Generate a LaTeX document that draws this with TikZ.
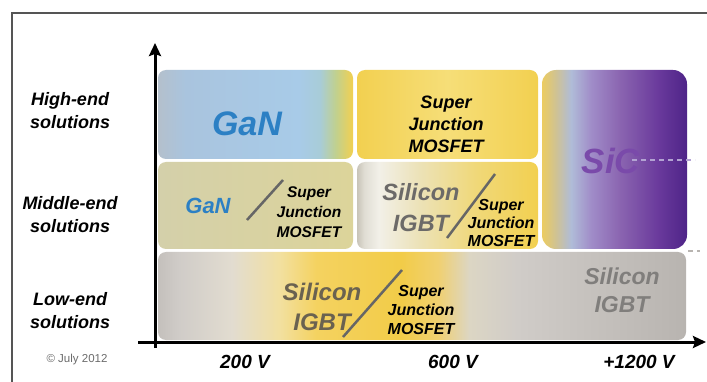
\documentclass[tikz,border=0pt]{standalone}
\usepackage{fontspec}
\setmainfont{Liberation Sans}
\usepackage{tikz}
\usetikzlibrary{positioning,arrows.meta}
\definecolor{ganblue}{RGB}{44,128,196}
\definecolor{sicpurple}{RGB}{122,74,170}
\definecolor{igbtgrey}{RGB}{108,106,104}
\definecolor{igbtbrown}{RGB}{106,98,80}
\definecolor{igbtlight}{RGB}{128,126,124}
\definecolor{framegrey}{RGB}{85,85,85}
\definecolor{g1}{RGB}{180,192,204}
\definecolor{g2}{RGB}{169,196,222}
\definecolor{g3}{RGB}{168,203,232}
\definecolor{g4}{RGB}{168,204,216}
\definecolor{g5}{RGB}{192,208,144}
\definecolor{yel}{RGB}{242,208,80}
\definecolor{yellite}{RGB}{246,222,120}
\definecolor{khaki1}{RGB}{212,208,170}
\definecolor{khaki2}{RGB}{220,212,154}
\definecolor{i1}{RGB}{200,196,184}
\definecolor{i2}{RGB}{224,221,212}
\definecolor{i3}{RGB}{242,240,232}
\definecolor{i4}{RGB}{236,226,184}
\definecolor{i5}{RGB}{240,216,120}
\definecolor{s1}{RGB}{236,204,96}
\definecolor{s2}{RGB}{206,194,150}
\definecolor{s3}{RGB}{176,188,216}
\definecolor{s4}{RGB}{160,140,200}
\definecolor{s5}{RGB}{138,100,176}
\definecolor{s6}{RGB}{106,58,156}
\definecolor{s7}{RGB}{78,36,136}
\definecolor{l1}{RGB}{196,192,188}
\definecolor{l2}{RGB}{208,204,200}
\definecolor{l3}{RGB}{226,220,208}
\definecolor{l4}{RGB}{242,224,160}
\definecolor{l5}{RGB}{244,210,96}
\definecolor{l6}{RGB}{242,204,72}
\definecolor{l7}{RGB}{240,208,112}
\definecolor{l8}{RGB}{220,214,196}
\definecolor{l9}{RGB}{184,180,176}
\pgfdeclarehorizontalshading{gantop}{100bp}{color(0bp)=(g1); color(25bp)=(g1);
  color(32bp)=(g2); color(61bp)=(g3); color(66.5bp)=(g4); color(70.5bp)=(g5);
  color(75bp)=(yel); color(100bp)=(yel)}
\pgfdeclarehorizontalshading{sjtop}{100bp}{color(0bp)=(yel); color(25bp)=(yel);
  color(50bp)=(yellite); color(75bp)=(yel); color(100bp)=(yel)}
\pgfdeclarehorizontalshading{ganmid}{100bp}{color(0bp)=(khaki1); color(25bp)=(khaki1);
  color(75bp)=(khaki2); color(100bp)=(khaki2)}
\pgfdeclarehorizontalshading{igbtmid}{100bp}{color(0bp)=(i1); color(25bp)=(i1);
  color(27bp)=(i2); color(31bp)=(i3); color(42bp)=(i4); color(58bp)=(i5);
  color(75bp)=(yel); color(100bp)=(yel)}
\pgfdeclarehorizontalshading{sicall}{100bp}{color(0bp)=(s1); color(25bp)=(s1);
  color(30bp)=(s2); color(35bp)=(s3); color(42bp)=(s4); color(52bp)=(s5);
  color(65bp)=(s6); color(75bp)=(s7); color(100bp)=(s7)}
\pgfdeclarehorizontalshading{lowall}{100bp}{color(0bp)=(l1); color(25bp)=(l1);
  color(27bp)=(l2); color(32bp)=(l3); color(36.5bp)=(l4); color(40bp)=(l5);
  color(48bp)=(l6); color(51.5bp)=(l7); color(54.5bp)=(l8); color(59bp)=(l2);
  color(67bp)=(l1); color(75bp)=(l9); color(100bp)=(l9)}
\tikzset{
  cell/.style = {rectangle, rounded corners=8pt, shade, inner sep=0pt},
  txt/.style 2 args = {font={\bfseries\itshape\fontsize{#1}{#2}\selectfont},
                       align=center, inner sep=0pt},
  rowtxt/.style = {txt={18}{23}},
  volttxt/.style = {txt={19}{22}},
  datetxt/.style = {font={\fontsize{11.5}{13}\selectfont}, text=gray!85!black, inner sep=0pt},
  axis/.style = {-{Stealth[length=13pt,width=12pt,inset=2pt]}, line width=3pt},
  slash/.style = {line width=2.5pt, draw=framegrey!90},
  frame/.style = {line width=1.5pt, draw=framegrey},
  dashline/.style = {dashed, line width=1.2pt, draw=s4!80, dash pattern=on 5pt off 4pt}
}

\begin{document}
\begin{tikzpicture}[x=1pt,y=-1pt]
  \useasboundingbox (0,0) rectangle (707,382);
  \fill[white] (0,0) rectangle (707,382);
  \coordinate (fbl) at (12,382);
  \coordinate (ftl) at (12,13);
  \coordinate (ftr) at (707,13);
  \draw[frame] (fbl) -- (ftl) -- (ftr);

  % boxes
  \node[cell, shading=gantop, minimum width=195pt, minimum height=89pt] (ganhigh) at (255.5,114.5) {};
  \node[cell, shading=sjtop, minimum width=181pt, minimum height=89pt] (sjhigh) at (447.5,114.5) {};
  \node[cell, shading=sicall, rounded corners=14pt, minimum width=145pt, minimum height=179pt] (sic) at (614.5,159.5) {};
  \node[cell, shading=ganmid, minimum width=195pt, minimum height=87pt] (ganmidbox) at (255.5,205.5) {};
  \node[cell, shading=igbtmid, minimum width=181pt, minimum height=87pt] (igbtmidbox) at (447.5,205.5) {};
  \node[cell, shading=lowall, minimum width=528pt, minimum height=88pt] (lowbox) at (422,296) {};

  % axes
  \coordinate (ybot) at (155,348);
  \coordinate (ytop) at (155,43);
  \coordinate (xl) at (138,342);
  \coordinate (xr) at (706,342);
  \draw[axis] (ybot) -- (ytop);
  \draw[axis] (xl) -- (xr);

  \node[rowtxt] (high) at (70,111) {High-end\\solutions};
  \node[rowtxt] (middle) at (70,215) {Middle-end\\solutions};
  \node[rowtxt] (lowend) at (70,311) {Low-end\\solutions};
  \node[datetxt] (date) at (77,360) {© July 2012};
  \node[volttxt] (v200) at (245,361.5) {200 V};
  \node[volttxt] (v600) at (453,361.5) {600 V};
  \node[volttxt] (v1200) at (639,361.5) {+1200 V};

  \node[txt={34}{40}, text=ganblue] (gan1) at (247,124) {GaN};
  \node[txt={18}{22}] (sj1) at (446,124) {Super\\Junction\\MOSFET};
  \node[txt={35}{40}, text=sicpurple] (sictxt) at (611,161) {SiC};
  \node[txt={22}{26}, text=ganblue] (gan2) at (208,206) {GaN};
  \node[txt={15.5}{20}] (sj2) at (309,212) {Super\\Junction\\MOSFET};
  \node[txt={23.5}{31}, text=igbtgrey] (igbt1) at (421,207.5) {Silicon\\IGBT};
  \node[txt={16}{18}] (sj3) at (501,223) {Super\\Junction\\MOSFET};
  \node[txt={24}{30}, text=igbtbrown] (igbt2) at (322,306.5) {Silicon\\IGBT};
  \node[txt={16}{19}] (sj4) at (421,310) {Super\\Junction\\MOSFET};
  \node[txt={23}{28}, text=igbtlight] (igbt3) at (622,290.5) {Silicon\\IGBT};

  \coordinate (s1a) at (247,220);
  \coordinate (s1b) at (283,180);
  \coordinate (s2a) at (447,238);
  \coordinate (s2b) at (495,174);
  \coordinate (s3a) at (343,337);
  \coordinate (s3b) at (402,270);
  \draw[slash] (s1a) -- (s1b);
  \draw[slash] (s2a) -- (s2b);
  \draw[slash] (s3a) -- (s3b);

  \coordinate (d1a) at (632,160);
  \coordinate (d1b) at (695,160);
  \coordinate (d2a) at (688,251);
  \coordinate (d2b) at (700,251);
  \draw[dashline] (d1a) -- (d1b);
  \draw[dashline, draw=l9] (d2a) -- (d2b);
\end{tikzpicture}
\end{document}
